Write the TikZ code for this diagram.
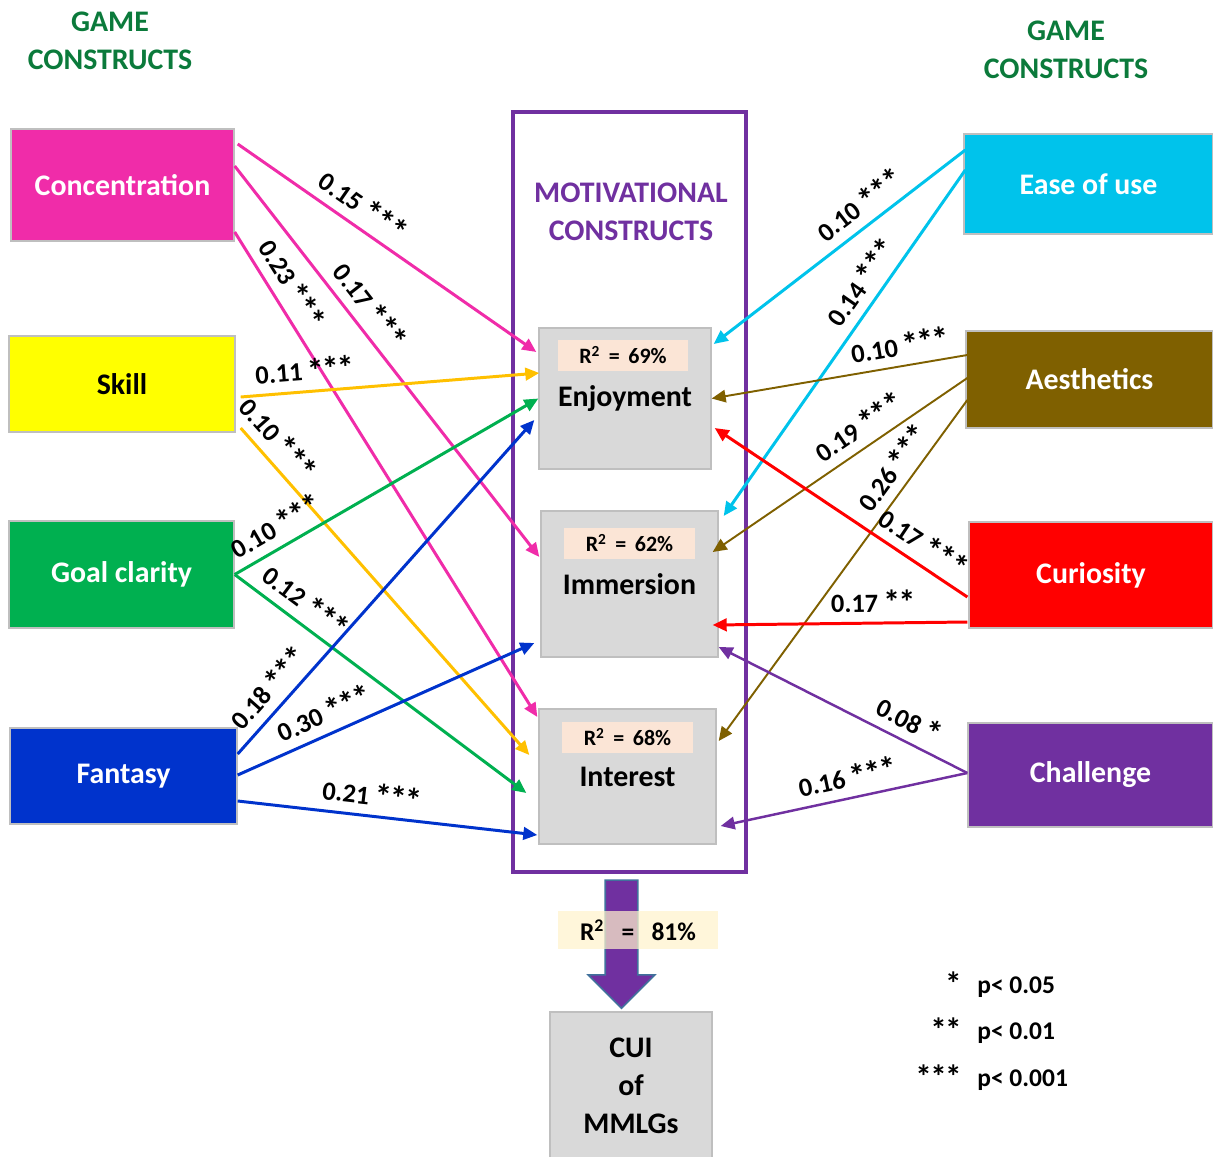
\documentclass[tikz,border=0pt]{standalone}
\usepackage{graphicx}
\usepackage{fontspec}
\setmainfont{Carlito}
\usetikzlibrary{arrows.meta,positioning,calc,shapes.arrows}
\definecolor{clConc}{HTML}{F02CA9}
\definecolor{clSkill}{HTML}{FFFF00}
\definecolor{clGold}{HTML}{FFC000}
\definecolor{clGoal}{HTML}{00B050}
\definecolor{clFant}{HTML}{0033CC}
\definecolor{clEase}{HTML}{00C3EB}
\definecolor{clAest}{HTML}{7F6000}
\definecolor{clCuri}{HTML}{FF0000}
\definecolor{clChal}{HTML}{7030A0}
\definecolor{clTitle}{HTML}{0B7A3B}
\definecolor{clGray}{HTML}{D9D9D9}
\definecolor{clEdge}{HTML}{BFBFBF}
\definecolor{clBand}{HTML}{FBE5D6}
\definecolor{clBandY}{HTML}{FFF2CC}
\definecolor{clArrowEdge}{HTML}{41719C}
% one significance star, drawn a little larger than the font's own
\newcommand{\sigstar}{\makebox[0.58em]{\raisebox{-0.1em}{\scalebox{1.3}{*}}}}
\tikzset{
  construct/.style={rectangle, draw=clEdge, line width=0.8pt, align=center, inner sep=0pt,
                    font=\fontsize{17}{21}\selectfont\bfseries, text=white},
  motive/.style={rectangle, draw=clEdge, line width=0.8pt, fill=clGray, align=center, inner sep=0pt,
                 font=\fontsize{17}{21.5}\selectfont\bfseries, text=black},
  rband/.style={rectangle, fill=clBand, minimum width=2.62cm, minimum height=0.62cm, inner sep=0pt,
                font=\fontsize{12.5}{14}\selectfont\bfseries},
  heading/.style={align=center, font=\fontsize{17}{21.5}\selectfont\bfseries},
  link/.style={-{Triangle[length=0.28cm, width=0.25cm]}, line width=1.7pt},
  coef/.style={sloped, above=1pt, inner sep=3pt, font=\fontsize{15}{17}\selectfont\bfseries, text=black},
  keytext/.style={font=\fontsize{14.5}{16}\selectfont\bfseries, inner sep=0pt},
}
\begin{document}
\begin{tikzpicture}[x=0.02cm, y=-0.02cm]
  \useasboundingbox (0,0) rectangle (1213,1156);

  % headings
  \node[heading, text=clTitle] (gameL) at (110,41) {GAME\\CONSTRUCTS};
  \node[heading, text=clTitle] (gameR) at (1066,50) {GAME\\CONSTRUCTS};

  % game constructs (left)
  \node[construct, fill=clConc, minimum width=4.46cm, minimum height=2.24cm] (conc) at (122.5,185) {Concentration};
  \node[construct, fill=clSkill, text=black, minimum width=4.52cm, minimum height=1.92cm] (skill) at (122,384) {Skill};
  \node[construct, fill=clGoal, minimum width=4.5cm, minimum height=2.14cm] (goal) at (121.5,574.5) {Goal clarity};
  \node[construct, fill=clFant, minimum width=4.54cm, minimum height=1.92cm] (fant) at (123.5,776) {Fantasy};

  % game constructs (right)
  \node[construct, fill=clEase, minimum width=4.98cm, minimum height=2cm] (ease) at (1088.5,184) {Ease of use};
  \node[construct, fill=clAest, minimum width=4.94cm, minimum height=1.94cm] (aest) at (1089.5,379.5) {Aesthetics};
  \node[construct, fill=clCuri, minimum width=4.88cm, minimum height=2.12cm] (curi) at (1091,575) {Curiosity};
  \node[construct, fill=clChal, minimum width=4.9cm, minimum height=2.08cm] (chal) at (1090.5,775) {Challenge};

  % motivational constructs
  \node[draw=clChal, line width=2.3pt, minimum width=4.66cm, minimum height=15.2cm] (frame) at (629.5,492) {};
  \node[heading, text=clChal] (motTitle) at (631,212) {MOTIVATIONAL\\CONSTRUCTS};
  \node[motive, minimum width=3.44cm, minimum height=2.82cm] (enjoy) at (625,398.5) {Enjoyment};
  \node[rband, below=0.24cm of enjoy.north, xshift=-0.04cm] (r2enjoy) {R\textsuperscript{2} \,=\, 69\%};
  \node[motive, minimum width=3.54cm, minimum height=2.92cm] (immer) at (629.5,584) {Immersion};
  \node[rband, below=0.34cm of immer.north] (r2immer) {R\textsuperscript{2} \,=\, 62\%};
  \node[motive, minimum width=3.54cm, minimum height=2.7cm] (inter) at (627.5,776.5) {Interest};
  \node[rband, below=0.26cm of inter.north] (r2inter) {R\textsuperscript{2} \,=\, 68\%};

  % outcome
  \node[single arrow, rotate=-90, fill=clChal, draw=clArrowEdge, line width=0.9pt, inner xsep=0pt, inner ysep=0.31cm,
        minimum height=2.56cm, single arrow head extend=0.34cm] (flowdown) at (621.5,936) {};
  \node[rectangle, fill=clBandY, fill opacity=0.72, text opacity=1, minimum width=3.2cm, minimum height=0.76cm,
        inner sep=0pt, font=\fontsize{14.5}{16}\selectfont\bfseries] (r2cui) at (638,930)
        {R\textsuperscript{2}\hspace{0.45em} = \hspace{0.45em}81\%};
  \node[motive, minimum width=3.24cm, minimum height=2.96cm] (cui) at (631,1086) {CUI\\of\\MMLGs};

  % paths from the left
  \draw[link, clConc] ($(conc.east)+(3,-41)$) -- node[coef, pos=0.38] {0.15 \sigstar\sigstar\sigstar} ($(enjoy.west)+(-2,-46.5)$);
  \draw[link, clConc] ($(conc.east)+(0,-19)$) -- node[coef, pos=0.39] {0.17 \sigstar\sigstar\sigstar} ($(immer.west)+(-1,-27)$);
  \draw[link, clConc] ($(conc.east)+(0,47)$) -- node[coef, pos=0.13] {0.23 \sigstar\sigstar\sigstar} ($(inter.west)+(-1,-59.5)$);
  \draw[link, clGold] ($(skill.east)+(5,13)$) -- node[coef, pos=0.22] {0.11 \sigstar\sigstar\sigstar} ($(enjoy.west)+(1,-25.5)$);
  \draw[link, clGold] ($(skill.east)+(5,44)$) -- node[coef, pos=0.075] {0.10 \sigstar\sigstar\sigstar} ($(inter.west)+(-9,-21.5)$);
  \draw[link, clGoal] (goal.east) -- node[coef, pos=0.17] {0.10 \sigstar\sigstar\sigstar} (enjoy.west);
  \draw[link, clGoal] (goal.east) -- node[coef, pos=0.2] {0.12 \sigstar\sigstar\sigstar} ($(inter.west)+(-12,16.5)$);
  \draw[link, clFant] ($(fant.east)+(0,-22)$) -- node[coef, pos=0.155] {0.18 \sigstar\sigstar\sigstar} ($(enjoy.west)+(-4,21.5)$);
  \draw[link, clFant] ($(fant.east)+(0,-1)$) -- node[coef, pos=0.32] {0.30 \sigstar\sigstar\sigstar} ($(immer.west)+(-6,59)$);
  \draw[link, clFant] ($(fant.east)+(0,25)$) -- node[coef, pos=0.44] {0.21 \sigstar\sigstar\sigstar} ($(inter.west)+(-1,58.5)$);

  % paths from the right
  \draw[link, clEase] ($(ease.west)+(2,-34)$) -- node[coef, pos=0.37] {0.10 \sigstar\sigstar\sigstar} ($(enjoy.east)+(2,-54.5)$);
  \draw[link, clEase] ($(ease.west)+(2,-14)$) -- node[coef, pos=0.36] {0.14 \sigstar\sigstar\sigstar} ($(immer.east)+(5,-68)$);
  \draw[link, clAest, line width=1.1pt] ($(aest.west)+(2,-24.5)$) -- node[coef, pos=0.25] {0.10 \sigstar\sigstar\sigstar} (enjoy.east);
  \draw[link, clAest, line width=1.1pt] ($(aest.west)+(2,-1.5)$) -- node[coef, pos=0.38] {0.19 \sigstar\sigstar\sigstar} ($(immer.east)+(-6,-32)$);
  \draw[link, clAest, line width=1.1pt] ($(aest.west)+(2,20.5)$) -- node[coef, pos=0.235] {0.26 \sigstar\sigstar\sigstar} ($(inter.east)+(2,-35.5)$);
  \draw[link, clCuri] ($(curi.west)+(-1,22)$) -- node[coef, pos=0.22] {0.17 \sigstar\sigstar\sigstar} ($(enjoy.east)+(3,29.5)$);
  \draw[link, clCuri] ($(curi.west)+(-1,47)$) -- node[coef, pos=0.37] {0.17 \sigstar\sigstar} ($(immer.east)+(-6,41)$);
  \draw[link, clChal, line width=1.4pt] ($(chal.west)+(0,-2)$) -- node[coef, pos=0.27] {0.08 \sigstar} ($(immer.east)+(0,63)$);
  \draw[link, clChal, line width=1.4pt] ($(chal.west)+(0,-2)$) -- node[coef, pos=0.47] {0.16 \sigstar\sigstar\sigstar} ($(inter.east)+(4,49.5)$);

  % significance key
  \node[keytext, anchor=base east] (star1) at (961,993) {\sigstar};
  \node[keytext, anchor=base west] (pval1) at (977,993) {p< 0.05};
  \node[keytext, anchor=base east] (star2) at (961,1039) {\sigstar\sigstar};
  \node[keytext, anchor=base west] (pval2) at (977,1039) {p< 0.01};
  \node[keytext, anchor=base east] (star3) at (961,1086) {\sigstar\sigstar\sigstar};
  \node[keytext, anchor=base west] (pval3) at (977,1086) {p< 0.001};
\end{tikzpicture}
\end{document}
